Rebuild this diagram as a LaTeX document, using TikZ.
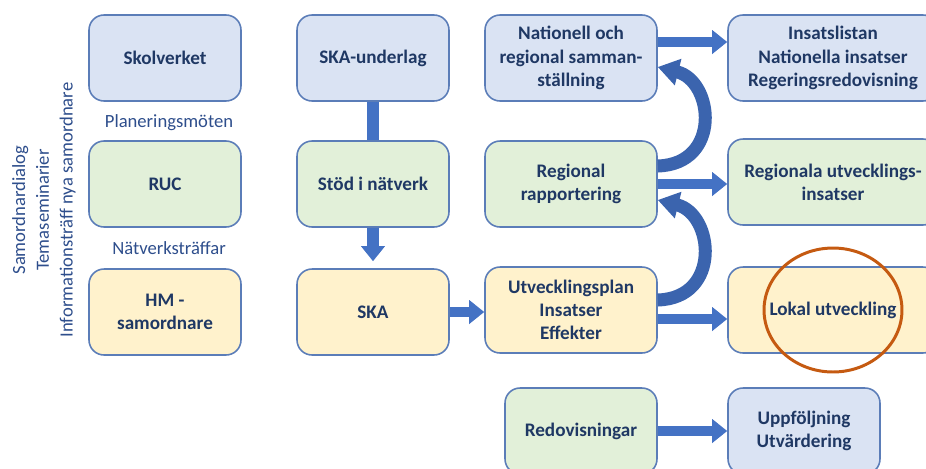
\documentclass[tikz,border=0pt]{standalone}
\usepackage{fontspec}
\setmainfont{Carlito}
\usepackage{xcolor}
\usetikzlibrary{arrows.meta,positioning}

\definecolor{boxline}{HTML}{5B7DB8}
\definecolor{navy}{HTML}{1F3864}
\definecolor{sidetext}{HTML}{2E4E8C}
\definecolor{bluefill}{HTML}{DAE3F3}
\definecolor{greenfill}{HTML}{E2F0D9}
\definecolor{yellowfill}{HTML}{FFF2CC}
\definecolor{arrowblue}{HTML}{4472C4}
\definecolor{curveblue}{HTML}{3B64AE}
\definecolor{ringorange}{HTML}{C55A11}

\begin{document}
\begin{tikzpicture}[
  x=0.02cm, y=-0.02cm,
  every node/.style={font=\fontsize{10.6}{13}\selectfont, text=navy},
  box/.style={draw=boxline, line width=0.9pt, rounded corners=0.3cm, minimum width=3.04cm, minimum height=1.72cm, align=center, font=\fontsize{10.9}{13.2}\selectfont\bfseries},
  widebox/.style={box, minimum width=3.44cm},
  bigbox/.style={box, minimum width=4.2cm},
  blockarrow/.style={draw=arrowblue, line width=0.2cm, -{Triangle[length=0.3cm, width=0.46cm]}},
  blockbar/.style={draw=arrowblue, line width=0.24cm},
  curvearrow/.style={draw=curveblue, line width=0.26cm, -{Triangle[length=0.42cm, width=0.52cm]}},
  ring/.style={draw=ringorange, line width=1.7pt}
]
\useasboundingbox (0,0) rectangle (926,468);

\node[box, fill=bluefill] (skolverket) at (165,58) {Skolverket};
\node[box, fill=greenfill] (ruc) at (165,184) {RUC};
\node[box, fill=yellowfill] (hm) at (165,312) {HM -\\samordnare};
\node[text=sidetext] (planering) at (169,123) {Planeringsmöten};
\node[text=sidetext] (natverk) at (169,248) {Nätverksträffar};
\node[text=sidetext, rotate=90, align=center, font=\fontsize{10.6}{13.5}\selectfont] (side) at (44,210)
  {Samordnardialog\\Temaseminarier\\Informationsträff nya samordnare};

\node[box, fill=bluefill] (skaund) at (373,58) {SKA-underlag};
\node[box, fill=greenfill] (stod) at (373,184) {Stöd i nätverk};
\node[box, fill=yellowfill] (ska) at (373,312) {SKA};

\node[widebox, fill=bluefill] (nat) at (571,58) {Nationell och\\regional samman-\\ställning};
\node[widebox, fill=greenfill] (reg) at (571,184) {Regional\\rapportering};
\node[widebox, fill=yellowfill] (utv) at (571,310) {Utvecklingsplan\\Insatser\\Effekter};

\node[bigbox, fill=bluefill] (ins) at (833,58) {Insatslistan\\Nationella insatser\\Regeringsredovisning};
\node[bigbox, fill=greenfill] (regutv) at (833,182) {Regionala utvecklings-\\insatser};
\node[bigbox, fill=yellowfill] (lok) at (833,310) {Lokal utveckling};

\node[box, fill=greenfill] (redov) at (581,431) {Redovisningar};
\node[box, fill=bluefill] (uppf) at (804,431) {Uppföljning\\Utvärdering};

\draw[blockbar] (skaund.south) -- (stod.north);
\draw[blockarrow, line width=0.24cm, shorten >=0.14cm] (stod.south) -- (ska.north);
\draw[blockarrow] (ska.east) -- (ska.east -| utv.west);
\draw[blockarrow] ([yshift=0.32cm]nat.east) -- ([yshift=0.32cm]nat.east -| ins.west);
\draw[blockarrow] (reg.east) -- (reg.east -| regutv.west);
\draw[blockarrow] ([yshift=-0.18cm]utv.east) -- ([yshift=-0.18cm]utv.east -| lok.west);
\draw[blockarrow] (redov.east) -- (redov.east -| uppf.west);

\draw[curvearrow] ([yshift=0.36cm]reg.east) .. controls +(64,-2) and +(56,14) .. ([yshift=-0.18cm]nat.east);
\draw[curvearrow] ([yshift=0.2cm]utv.east) .. controls +(64,-2) and +(56,14) .. ([yshift=-0.32cm]reg.east);

\draw[ring] (lok.center) ellipse [x radius=1.38cm, y radius=1.24cm];
\end{tikzpicture}
\end{document}
